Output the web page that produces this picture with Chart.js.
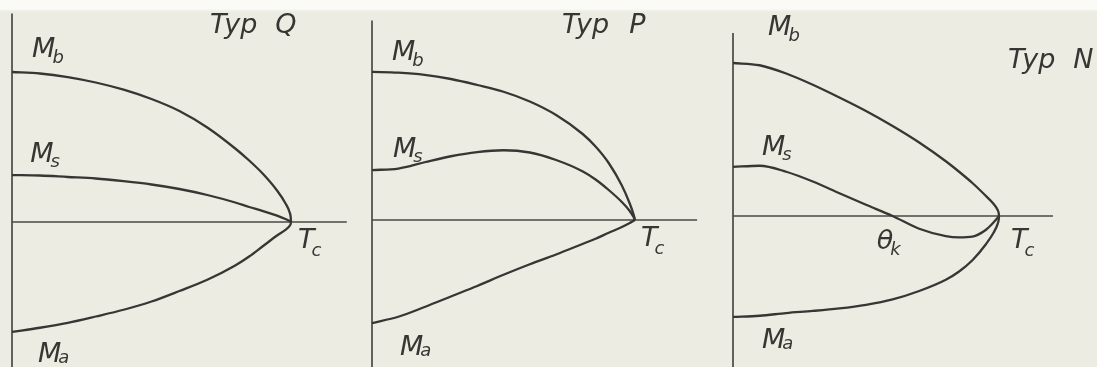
<!DOCTYPE html>
<html>
<head>
<meta charset="utf-8">
<script src="https://cdn.jsdelivr.net/npm/chart.js@4.4.0/dist/chart.umd.min.js"></script>
<style>
  html, body { margin: 0; padding: 0; }
  body {
    width: 1097px; height: 367px; overflow: hidden; position: relative;
    background: linear-gradient(#fafaf6 0, #fafaf6 9px, #ecece2 12px);
  }
  canvas { position: absolute; top: 0; }
</style>
</head>
<body>
<canvas id="typQ" width="360" height="367" style="left:0"></canvas>
<canvas id="typP" width="360" height="367" style="left:360px"></canvas>
<canvas id="typN" width="377" height="367" style="left:720px"></canvas>
<script>
// reduced temperature T/Tc, shared by all three panels
const temps = [0, 0.1, 0.2, 0.3, 0.4, 0.5, 0.6, 0.7, 0.8, 0.85, 0.9, 0.95, 0.98, 0.995, 0.999, 1];

// Typ Q
const qMb = [1.0, 0.99, 0.966, 0.93, 0.882, 0.82, 0.74, 0.63, 0.49, 0.41, 0.32, 0.21, 0.125, 0.065, 0.03, 0];
const qMs = [0.313, 0.31, 0.30, 0.29, 0.272, 0.25, 0.22, 0.18, 0.13, 0.10, 0.073, 0.042, 0.02, 0.007, 0.002, 0];
const qMa = [-0.733, -0.705, -0.672, -0.63, -0.585, -0.53, -0.46, -0.385, -0.29, -0.23, -0.16, -0.09, -0.052, -0.026, -0.012, 0];

// Typ P
const pMb = [0.987, 0.982, 0.968, 0.94, 0.90, 0.855, 0.79, 0.70, 0.575, 0.49, 0.38, 0.23, 0.11, 0.035, 0.008, 0];
const pMs = [0.333, 0.343, 0.385, 0.425, 0.453, 0.465, 0.45, 0.40, 0.325, 0.27, 0.20, 0.12, 0.06, 0.018, 0.004, 0];
const pMa = [-0.687, -0.645, -0.58, -0.51, -0.44, -0.365, -0.295, -0.23, -0.16, -0.125, -0.085, -0.047, -0.02, -0.005, -0.001, 0];

// Typ N (Ms changes sign at the compensation point)
const nMb = [1.02, 1.005, 0.95, 0.875, 0.79, 0.70, 0.60, 0.49, 0.365, 0.295, 0.22, 0.135, 0.08, 0.04, 0.018, 0];
const nMs = [0.327, 0.335, 0.295, 0.23, 0.152, 0.075, 0.0, -0.085, -0.134, -0.142, -0.137, -0.093, -0.042, -0.012, -0.003, 0];
const nMa = [-0.673, -0.665, -0.647, -0.633, -0.616, -0.592, -0.556, -0.50, -0.425, -0.37, -0.295, -0.19, -0.11, -0.052, -0.023, 0];

const thetaK = 0.6;

const INK = "#363633";
const AXIS = "#4a4a46";
const FACE = "'DejaVu Sans', 'Open Sans', sans-serif";
const FONT = "italic 27px " + FACE;
const SUB = "italic 18px " + FACE;
const PX_PER_M = 150;

// draws the two axis lines and the italic labels
const axesAndLabels = {
  id: "axesAndLabels",
  beforeDatasetsDraw(chart, args, opts) {
    const ctx = chart.ctx, x = chart.scales.x, y = chart.scales.y;
    const x0 = x.getPixelForValue(0), y0 = y.getPixelForValue(0);
    ctx.save();
    ctx.strokeStyle = AXIS;
    ctx.lineWidth = 1.7;
    ctx.beginPath();
    ctx.moveTo(x0, y.getPixelForValue(opts.axisTop));
    ctx.lineTo(x0, y.bottom);
    ctx.moveTo(x0, y0);
    ctx.lineTo(x.getPixelForValue(opts.axisEnd), y0);
    ctx.stroke();
    ctx.restore();
  },
  afterDatasetsDraw(chart, args, opts) {
    const ctx = chart.ctx, x = chart.scales.x, y = chart.scales.y;
    ctx.save();
    ctx.fillStyle = INK;
    ctx.textBaseline = "alphabetic";
    opts.labels.forEach((l) => {
      const px = x.getPixelForValue(l.t), py = y.getPixelForValue(l.m);
      ctx.font = FONT;
      ctx.fillText(l.text, px, py);
      const w = ctx.measureText(l.text).width;
      if (l.sub) {
        ctx.font = SUB;
        ctx.fillText(l.sub, px + w - 3, py + (l.drop || 5));
      }
      if (l.letter) {
        ctx.fillText(l.letter, px + w + (l.gap || 12), py);
      }
    });
    ctx.restore();
  },
};

function curve(values) {
  return {
    data: temps.map((t, i) => ({ x: t, y: values[i] })),
    borderColor: INK,
    borderWidth: 2.3,
    pointRadius: 0,
    fill: false,
    cubicInterpolationMode: "monotone",
  };
}

function panel(id, frame, series, axisTop, axisEnd, labels) {
  const canvas = document.getElementById(id);
  const k = frame.tcX - frame.originX;
  const xmin = -(frame.originX - frame.left) / k;
  const ymax = frame.zeroY / PX_PER_M;
  new Chart(canvas, {
    type: "line",
    data: { datasets: series.map(curve) },
    options: {
      responsive: false,
      animation: false,
      devicePixelRatio: 1,
      layout: { padding: 0 },
      scales: {
        x: { type: "linear", display: false, min: xmin, max: xmin + canvas.width / k },
        y: { type: "linear", display: false, min: ymax - canvas.height / PX_PER_M, max: ymax },
      },
      plugins: {
        legend: { display: false },
        tooltip: { enabled: false },
        axesAndLabels: { axisTop, axisEnd, labels },
      },
    },
    plugins: [axesAndLabels],
  });
}

panel("typQ", { left: 0, originX: 12, tcX: 291, zeroY: 222 }, [qMb, qMs, qMa], 1.39, 1.2, [
  { text: "Typ", letter: "Q", gap: 18, t: 0.71, m: 1.26 },
  { text: "M", sub: "b", t: 0.072, m: 1.1, drop: 6 },
  { text: "M", sub: "s", t: 0.065, m: 0.4 },
  { text: "M", sub: "a", t: 0.093, m: -0.933, drop: 1 },
  { text: "T", sub: "c", t: 1.025, m: -0.173, drop: 8 },
]);

panel("typP", { left: 360, originX: 372, tcX: 635, zeroY: 220 }, [pMb, pMs, pMa], 1.33, 1.236, [
  { text: "Typ", letter: "P", gap: 20, t: 0.722, m: 1.247 },
  { text: "M", sub: "b", t: 0.076, m: 1.067, drop: 6 },
  { text: "M", sub: "s", t: 0.08, m: 0.42 },
  { text: "M", sub: "a", t: 0.106, m: -0.9, drop: 1 },
  { text: "T", sub: "c", t: 1.023, m: -0.173, drop: 8 },
]);

panel("typN", { left: 720, originX: 733, tcX: 999, zeroY: 216 }, [nMb, nMs, nMa], 1.22, 1.203, [
  { text: "Typ", letter: "N", gap: 18, t: 1.034, m: 0.987 },
  { text: "M", sub: "b", t: 0.132, m: 1.207, drop: 6 },
  { text: "M", sub: "s", t: 0.109, m: 0.407 },
  { text: "M", sub: "a", t: 0.109, m: -0.88, drop: 1 },
  { text: "θ", sub: "k", t: thetaK - 0.06, m: -0.22, drop: 6 },
  { text: "T", sub: "c", t: 1.045, m: -0.213, drop: 8 },
]);
</script>
</body>
</html>
